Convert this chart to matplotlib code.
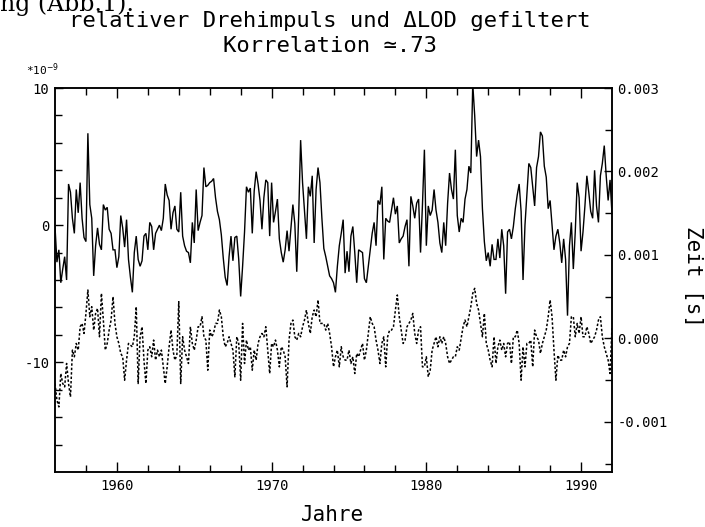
import numpy as np
import matplotlib
matplotlib.use('Agg')
import matplotlib.pyplot as plt
from matplotlib.ticker import FixedLocator, FixedFormatter

# ---- data ----
t_start = 1956.0
t_step = 0.125  # years between samples

# relativer Drehimpuls, units of 1e-9 (left axis)
drehimpuls = [
    -0.1, -2.7, -1.8, -4.2, -3.2, -2.3, -4.0, 3.0, 2.4, 0.5,
    -0.6, 2.6, 0.9, 3.1, 0.5, -0.9, -1.2, 6.7, 1.5, 0.5,
    -3.7, -1.5, -0.2, -1.4, -1.8, 1.5, 1.1, 1.3, -0.3, -0.6,
    -1.8, -1.8, -3.1, -2.3, 0.7, -0.2, -1.6, 0.4, -2.5, -3.8,
    -4.9, -2.0, -0.8, -2.5, -3.0, -2.6, -0.8, -0.6, -1.8, 0.2,
    -0.1, -1.8, -0.6, -0.3, 0.0, -0.4, 0.5, 3.0, 2.2, 1.8,
    -0.3, 0.9, 1.4, -0.3, -0.5, 2.4, -0.8, -1.5, -1.9, -2.0,
    -2.75, 0.2, -1.3, 2.6, -0.4, 0.2, 0.7, 4.2, 2.8, 2.9,
    3.1, 3.2, 3.4, 2.0, 1.0, 0.4, -0.7, -2.4, -3.8, -4.4,
    -2.3, -0.8, -2.6, -0.9, -0.8, -2.5, -5.2, -3.0, -0.5, 2.8,
    2.4, 2.7, -0.6, 2.5, 3.9, 3.0, 1.8, -0.3, 2.0, 3.3,
    3.1, -0.8, 3.1, 0.2, 1.0, 1.9, -1.0, -2.0, -2.7, -1.8,
    -0.4, -1.9, -0.2, 1.5, 0.1, -3.4, 0.7, 6.2, 3.1, 1.1,
    -1.0, 2.8, 2.1, 3.6, -1.3, 2.6, 4.2, 3.1, 0.5, -1.7,
    -2.3, -3.0, -3.7, -3.9, -4.2, -4.9, -3.0, -1.5, -0.6, 0.4,
    -3.5, -1.9, -3.4, -0.8, -0.1, -2.0, -4.2, -1.8, -1.9, -2.0,
    -3.9, -4.2, -3.0, -1.8, -0.6, 0.2, -1.5, 1.8, 1.5, 2.8,
    -2.5, 0.5, 0.3, 0.2, 1.1, 2.0, 0.8, 1.4, -1.3, -1.0,
    -0.8, -0.1, 0.4, -3.0, 2.1, 1.4, 0.5, 1.6, 1.9, -2.0,
    1.5, 5.5, -1.5, 1.4, 0.7, 1.1, 2.6, 1.1, 0.2, -1.3,
    -2.0, 0.2, -1.5, 1.6, 3.8, 2.6, 1.9, 5.5, 0.7, -0.5,
    0.5, 0.2, 1.9, 2.6, 4.3, 3.8, 10.3, 8.0, 5.0, 6.2,
    5.0, 1.2, -1.2, -2.6, -2.0, -3.0, -1.4, -2.5, -2.5, -1.0,
    -2.4, -0.3, -1.5, -5.0, -0.5, -0.3, -1.0, -0.1, 1.2, 2.2,
    3.0, 1.0, -4.0, 0.0, 2.2, 4.5, 4.2, 2.8, 1.4, 4.2,
    5.0, 6.8, 6.5, 4.3, 3.5, 1.2, 1.8, 0.0, -1.8, -0.8,
    -0.3, -1.3, -2.75, -1.0, -2.5, -6.6, -1.5, 0.2, -3.2, -0.5,
    3.1, 2.0, -1.9, -0.5, 1.4, 3.6, 2.4, 1.0, 0.5, 4.0,
    1.4, 0.2, 3.6, 4.5, 5.8, 3.6, 1.8, 3.3, 0.8,
]

# Delta LOD, milliseconds (right axis, shown in seconds)
dlod_ms = [
    -0.54, -0.74, -0.82, -0.42, -0.54, -0.58, -0.30, -0.54, -0.70, -0.14,
    -0.22, -0.06, -0.14, 0.14, 0.18, 0.06, 0.30, 0.58, 0.26, 0.38,
    0.10, 0.30, 0.36, 0.02, 0.54, 0.22, -0.14, -0.06, 0.10, 0.22,
    0.50, 0.18, 0.02, -0.06, -0.18, -0.22, -0.50, -0.26, -0.06, -0.08,
    -0.10, 0.02, 0.38, -0.54, 0.02, 0.14, -0.26, -0.54, -0.14, -0.10,
    -0.22, -0.02, -0.26, -0.14, -0.22, -0.14, -0.34, -0.54, -0.34, -0.10,
    0.10, -0.14, -0.26, -0.20, 0.44, -0.54, 0.02, -0.14, -0.22, -0.30,
    0.14, -0.06, -0.14, -0.02, 0.14, 0.14, 0.26, 0.02, -0.02, -0.38,
    0.10, 0.02, 0.06, 0.18, 0.18, 0.34, 0.26, 0.02, -0.10, -0.06,
    0.02, -0.06, -0.14, -0.46, 0.02, -0.06, -0.50, 0.18, -0.30, -0.02,
    -0.14, -0.10, -0.38, -0.14, -0.26, -0.06, 0.02, 0.06, 0.02, 0.14,
    -0.14, -0.42, -0.06, -0.10, -0.02, -0.14, -0.34, -0.10, -0.14, -0.22,
    -0.58, -0.02, 0.18, 0.22, 0.02, -0.02, 0.06, 0.02, 0.14, 0.22,
    0.34, 0.18, 0.06, 0.26, 0.34, 0.26, 0.46, 0.18, 0.18, 0.18,
    0.10, 0.18, 0.06, -0.10, -0.34, -0.22, -0.14, -0.34, -0.10, -0.22,
    -0.26, -0.26, -0.14, -0.30, -0.22, -0.42, -0.18, -0.22, -0.14, -0.06,
    -0.26, -0.14, 0.06, 0.26, 0.18, 0.14, -0.02, -0.14, -0.30, -0.06,
    0.02, -0.34, 0.02, 0.10, 0.10, 0.14, 0.34, 0.52, 0.26, 0.10,
    -0.06, -0.02, 0.14, 0.18, 0.22, 0.30, 0.06, -0.06, 0.10, 0.14,
    -0.34, -0.34, -0.22, -0.46, -0.38, -0.14, -0.06, 0.02, -0.10, 0.02,
    -0.06, 0.02, -0.06, -0.22, -0.30, -0.26, -0.22, -0.22, -0.10, -0.14,
    0.00, 0.14, 0.22, 0.14, 0.26, 0.38, 0.54, 0.60, 0.42, 0.34,
    0.18, 0.02, 0.30, -0.06, -0.14, -0.26, -0.34, 0.02, -0.30, -0.10,
    -0.02, -0.14, -0.06, -0.22, -0.06, -0.04, -0.30, 0.02, 0.02, 0.10,
    -0.06, -0.50, -0.10, -0.34, -0.06, -0.06, -0.02, -0.34, 0.10, 0.02,
    -0.02, -0.18, -0.06, 0.02, 0.10, 0.26, 0.46, 0.26, -0.14, -0.50,
    -0.20, -0.26, -0.26, -0.14, -0.22, -0.10, -0.06, 0.26, 0.26, 0.02,
    0.18, 0.06, 0.26, 0.02, 0.02, 0.14, 0.06, -0.06, -0.02, 0.02,
    0.10, 0.22, 0.26, 0.02, -0.10, -0.18, -0.26, -0.42, 0.14,
]

x_ticks_major = [1960, 1970, 1980, 1990]
x_tick_labels = ['1960', '1970', '1980', '1990']
left_ticks = [10, 0, -10]
left_labels = ['10', '0', '-10']
right_ticks = [0.003, 0.002, 0.001, 0.000, -0.001]
right_labels = ['0.003', '0.002', '0.001', '0.000', '-0.001']

title1 = 'relativer Drehimpuls und \u0394LOD gefiltert'
title2 = 'Korrelation \u2243.73'

# ---- figure ----
FONT = ['DejaVu Sans Mono', 'DejaVu Sans']
plt.rcParams['font.family'] = FONT

W, H = 705, 527
fig = plt.figure(figsize=(W / 100, H / 100), dpi=100)
L, R, T, B = 55, 612, 88, 472
ax = fig.add_axes([L / W, 1 - B / H, (R - L) / W, (B - T) / H])
ax2 = ax.twinx()

years1 = t_start + t_step * np.arange(len(drehimpuls))
years2 = t_start + t_step * np.arange(len(dlod_ms))

ax.plot(years1, drehimpuls, color='black', lw=1.0, solid_joinstyle='miter')
ax2.plot(years2, np.array(dlod_ms) * 1e-3, color='black', lw=1.1,
         linestyle=(0, (1.6, 1.3)))

ax.set_xlim(1956, 1992)
ax.set_ylim(-18, 10)
ax2.set_ylim(-0.0016, 0.003)

for a in (ax, ax2):
    for s in a.spines.values():
        s.set_linewidth(1.1)

# x ticks
ax.xaxis.set_major_locator(FixedLocator(x_ticks_major))
ax.xaxis.set_major_formatter(FixedFormatter(x_tick_labels))
ax.xaxis.set_minor_locator(FixedLocator(np.arange(1958, 1992, 2)))
ax.tick_params(axis='x', which='both', direction='in', top=True, bottom=True)
ax.tick_params(axis='x', which='major', length=7, width=1, labelsize=10, pad=5)
ax.tick_params(axis='x', which='minor', length=5, width=1)

# left y ticks
ax.yaxis.set_major_locator(FixedLocator(left_ticks))
ax.yaxis.set_major_formatter(FixedFormatter(left_labels))
ax.yaxis.set_minor_locator(FixedLocator(np.arange(-16, 10, 2)))
ax.tick_params(axis='y', which='both', direction='in', left=True, right=False)
ax.tick_params(axis='y', which='major', length=6, width=1, labelsize=10, pad=4)
ax.tick_params(axis='y', which='minor', length=5, width=1)

# right y ticks
ax2.yaxis.set_major_locator(FixedLocator(right_ticks))
ax2.yaxis.set_major_formatter(FixedFormatter(right_labels))
ax2.yaxis.set_minor_locator(FixedLocator([0.0025, 0.0015, 0.0005, -0.0005, -0.0015]))
ax2.tick_params(axis='y', which='both', direction='in', right=True, left=False)
ax2.tick_params(axis='y', which='major', length=6, width=1, labelsize=10, pad=4)
ax2.tick_params(axis='y', which='minor', length=5, width=1)

# texts
fig.text(0.0, 1 - 4 / H, 'ng (Abb.1).', family=['DejaVu Serif'], fontsize=17,
         ha='left', va='center')
fig.text(330 / W, 1 - 21 / H, title1, fontsize=16, ha='center', va='center')
fig.text(330 / W, 1 - 46 / H, title2, fontsize=16, ha='center', va='center')
fig.text(26 / W, 1 - 70 / H, r'*10$^{-9}$', fontsize=8, ha='left', va='center')
fig.text(333 / W, 1 - 515 / H, 'Jahre', fontsize=15, ha='center', va='center')
fig.text(693 / W, 1 - 277 / H, 'Zeit [s]', fontsize=15, ha='center',
         va='center', rotation=-90)

fig.savefig('out.png', dpi=100)
